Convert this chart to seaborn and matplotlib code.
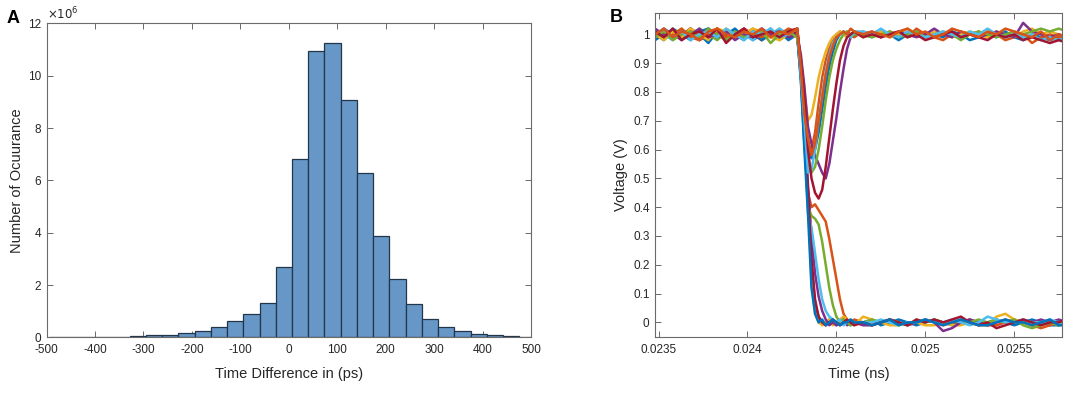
import numpy as np
import pandas as pd
import matplotlib
matplotlib.use("Agg")
import matplotlib.pyplot as plt
import seaborn as sns

# ---------------- Panel A data (histogram, counts in units of 1e6) ----------------
bin_edges = [-495.7, -462.2, -428.7, -395.2, -361.7, -328.2, -294.7, -261.2, -227.7,
             -194.2, -160.7, -127.2, -93.7, -60.2, -26.7, 6.8, 40.3, 73.8, 107.3,
             140.8, 174.3, 207.8, 241.3, 274.8, 308.3, 341.8, 375.3, 408.8, 442.3,
             475.8, 509.3]
counts_millions = [0.01, 0.01, 0.02, 0.02, 0.03, 0.05, 0.08, 0.10, 0.17, 0.26,
                   0.40, 0.63, 0.91, 1.31, 2.70, 6.82, 10.96, 11.26, 9.09, 6.29,
                   3.86, 2.22, 1.26, 0.72, 0.40, 0.23, 0.13, 0.09, 0.05, 0.03]
hist_xticks = [-500, -400, -300, -200, -100, 0, 100, 200, 300, 400, 500]
hist_yticks = [0, 2, 4, 6, 8, 10, 12]

# ---------------- Panel B data (voltage traces) ----------------
time_ns = [0.02348, 0.02353, 0.02358, 0.02363, 0.02368, 0.02373, 0.02378, 0.02383,
           0.02388, 0.02393, 0.02398, 0.02403, 0.02408, 0.02413, 0.02418, 0.02423,
           0.02428,
           0.02430, 0.02432, 0.02434, 0.02436, 0.02438, 0.02440, 0.02442, 0.02444,
           0.02446, 0.02448, 0.02450, 0.02452, 0.02454, 0.02456, 0.02458, 0.02460,
           0.02465, 0.02470, 0.02475, 0.02480, 0.02485, 0.02490, 0.02495, 0.02500,
           0.02505, 0.02510, 0.02515, 0.02520, 0.02525, 0.02530, 0.02535, 0.02540,
           0.02545, 0.02550, 0.02555, 0.02560, 0.02565, 0.02570, 0.02575, 0.02580]

# traces that fall to zero
fall_blue = [0.98, 1.00, 1.01, 0.99, 1.02, 1.00, 0.97, 1.01, 1.00, 0.99, 1.01, 0.98, 1.00, 1.02, 0.99, 1.00, 0.99,
             0.85, 0.62, 0.45, 0.20, 0.06, 0.02, 0.00, -0.01, 0.01, 0.00, -0.01, 0.00, 0.01, 0.00, -0.01, 0.00,
             0.00, 0.01, -0.01, 0.00, 0.01, 0.00, -0.01, 0.00, 0.01, 0.00, -0.01, 0.00, 0.01, -0.01, 0.00, 0.01, 0.00, -0.01, 0.00, 0.01, 0.00, -0.01, -0.01, 0.00]
fall_orange = [1.00, 1.01, 0.99, 1.00, 1.02, 0.99, 1.01, 1.00, 0.98, 1.01, 1.00, 0.99, 1.01, 1.00, 0.99, 1.01, 1.02,
               0.88, 0.68, 0.45, 0.40, 0.41, 0.39, 0.37, 0.35, 0.29, 0.22, 0.15, 0.08, 0.03, 0.01, 0.00, 0.01,
               0.00, -0.01, 0.00, 0.01, 0.00, -0.01, 0.00, 0.01, 0.00, -0.01, 0.00, 0.00, 0.01, 0.00, -0.01, -0.01, 0.00, 0.01, 0.00, -0.01, -0.02, -0.01, 0.00, 0.01]
fall_yellow = [1.01, 0.99, 1.00, 1.02, 0.98, 1.01, 1.00, 0.99, 1.02, 1.00, 0.99, 1.01, 0.98, 1.00, 1.02, 0.99, 1.00,
               0.87, 0.66, 0.44, 0.14, 0.03, 0.00, -0.01, 0.00, 0.01, -0.01, 0.00, 0.01, 0.02, 0.01, 0.00, -0.01,
               0.02, 0.01, 0.00, -0.01, -0.01, 0.00, 0.00, -0.01, -0.01, 0.00, -0.01, -0.01, 0.00, -0.01, -0.01, 0.02, 0.03, 0.01, 0.00, -0.01, -0.01, 0.00, -0.01, 0.00]
fall_purple = [0.99, 1.02, 1.00, 0.98, 1.01, 1.00, 1.02, 0.99, 1.00, 1.01, 0.99, 1.00, 1.02, 0.99, 1.00, 1.01, 0.99,
               0.89, 0.70, 0.48, 0.30, 0.17, 0.09, 0.04, 0.01, -0.01, 0.00, -0.01, 0.00, 0.01, -0.01, 0.00, 0.00,
               -0.01, -0.01, 0.00, 0.01, 0.00, -0.01, 0.00, 0.01, 0.00, -0.03, -0.02, 0.00, 0.01, 0.00, -0.01, 0.00, 0.01, 0.00, 0.01, 0.00, 0.01, 0.00, 0.01, 0.00]
fall_green = [1.00, 0.99, 1.01, 1.00, 0.99, 1.02, 1.00, 0.98, 1.01, 0.99, 1.00, 1.02, 0.99, 1.01, 0.98, 1.00, 1.01,
              0.86, 0.66, 0.40, 0.37, 0.36, 0.34, 0.28, 0.20, 0.12, 0.06, 0.02, 0.00, 0.01, 0.00, -0.01, 0.00,
              0.00, 0.01, 0.00, 0.01, 0.00, -0.01, 0.01, 0.00, 0.01, 0.00, 0.00, 0.01, 0.00, 0.01, 0.00, 0.01, 0.00, 0.01, -0.01, -0.02, -0.01, 0.00, -0.01, 0.01]
fall_lightblue = [1.01, 1.00, 0.98, 1.01, 1.00, 0.99, 1.02, 1.00, 0.99, 1.01, 1.00, 0.98, 1.01, 1.00, 1.02, 1.00, 0.99,
                  0.90, 0.70, 0.38, 0.33, 0.24, 0.15, 0.08, 0.04, 0.02, 0.01, 0.00, 0.01, -0.01, 0.00, 0.01, 0.00,
                  0.00, 0.00, 0.01, 0.00, -0.01, 0.00, 0.00, 0.01, 0.00, 0.00, 0.01, 0.00, -0.01, 0.00, 0.02, 0.01, 0.00, 0.00, 0.01, 0.00, 0.00, 0.01, 0.00, -0.01]
fall_darkred = [0.99, 1.01, 1.00, 0.99, 1.02, 0.98, 1.00, 1.01, 1.00, 0.99, 1.02, 1.00, 0.98, 1.01, 1.00, 0.99, 1.01,
                0.87, 0.64, 0.46, 0.22, 0.08, 0.02, 0.00, -0.01, 0.00, 0.01, 0.00, -0.01, 0.00, 0.01, 0.00, -0.01,
                0.00, -0.01, 0.00, 0.01, 0.00, -0.01, 0.01, 0.00, 0.01, 0.00, 0.01, 0.02, 0.00, -0.01, 0.00, -0.02, -0.01, 0.00, 0.01, 0.00, -0.01, 0.00, 0.00, 0.01]
fall_blue2 = [1.00, 0.98, 1.01, 1.00, 0.99, 1.01, 1.00, 1.02, 0.99, 1.00, 0.98, 1.01, 0.99, 1.00, 1.01, 0.98, 1.00,
              0.84, 0.60, 0.38, 0.12, 0.03, 0.00, 0.01, -0.01, 0.00, 0.01, 0.00, -0.01, 0.00, 0.00, 0.01, 0.00,
              0.00, -0.01, 0.00, 0.01, -0.01, 0.00, 0.00, 0.01, 0.00, -0.01, 0.00, 0.01, 0.00, -0.01, -0.01, 0.00, 0.01, 0.00, 0.00, -0.01, 0.00, 0.01, -0.01, -0.01]

# traces that dip and recover to one
rec_blue = [1.01, 0.99, 1.02, 1.00, 0.98, 1.01, 1.02, 0.99, 1.00, 1.02, 0.99, 1.01, 0.98, 1.00, 1.01, 0.99, 1.00,
            0.86, 0.70, 0.60, 0.57, 0.60, 0.66, 0.74, 0.82, 0.89, 0.94, 0.98, 1.00, 1.01, 1.00, 0.99, 1.00,
            1.00, 0.99, 1.01, 1.00, 0.98, 1.00, 1.01, 0.99, 1.00, 0.99, 1.01, 1.00, 0.98, 0.99, 1.00, 0.99, 1.01, 0.99, 0.98, 1.00, 0.99, 0.98, 0.99, 0.98]
rec_orange = [0.99, 1.01, 1.00, 1.02, 0.99, 0.98, 1.00, 1.01, 0.99, 1.00, 1.02, 1.00, 0.99, 1.01, 1.00, 1.02, 1.01,
              0.90, 0.74, 0.62, 0.60, 0.66, 0.76, 0.85, 0.91, 0.95, 0.98, 1.00, 1.01, 1.00, 1.01, 1.00, 0.99,
              1.01, 1.00, 0.99, 1.01, 1.00, 0.99, 1.02, 1.00, 0.99, 0.98, 1.00, 0.99, 1.00, 1.01, 0.99, 1.00, 0.98, 0.99, 1.00, 0.97, 0.99, 1.00, 0.99, 0.98]
rec_yellow = [1.00, 0.98, 1.01, 0.99, 1.02, 1.00, 0.98, 1.02, 1.01, 0.99, 1.00, 1.02, 1.01, 0.99, 0.98, 1.00, 0.99,
              0.92, 0.80, 0.70, 0.72, 0.78, 0.85, 0.90, 0.94, 0.97, 0.99, 1.00, 1.01, 1.00, 0.99, 1.00, 1.01,
              0.99, 1.00, 1.01, 0.99, 1.00, 1.02, 1.00, 0.99, 1.01, 1.00, 0.99, 1.00, 1.01, 1.00, 0.99, 1.01, 1.00, 0.99, 1.01, 1.02, 1.00, 1.01, 1.00, 0.99]
rec_purple = [1.02, 1.00, 0.99, 1.01, 1.00, 1.02, 0.99, 1.00, 1.01, 0.98, 1.00, 0.99, 1.02, 1.00, 1.01, 0.99, 1.00,
              0.93, 0.82, 0.68, 0.62, 0.58, 0.55, 0.52, 0.50, 0.55, 0.63, 0.71, 0.80, 0.88, 0.95, 0.99, 1.00,
              1.00, 1.01, 0.99, 1.00, 1.01, 1.00, 0.99, 1.00, 1.02, 1.00, 0.99, 1.01, 1.00, 0.99, 1.00, 1.01, 1.00, 0.99, 1.04, 1.01, 1.00, 0.99, 1.00, 0.99]
rec_green = [0.99, 1.01, 0.98, 1.00, 1.01, 0.99, 1.02, 1.00, 0.98, 1.01, 0.99, 1.00, 1.01, 0.97, 1.00, 1.01, 0.99,
             0.90, 0.76, 0.56, 0.52, 0.54, 0.60, 0.68, 0.77, 0.85, 0.91, 0.95, 0.98, 1.00, 1.01, 0.99, 1.00,
             1.00, 0.99, 1.00, 1.01, 0.99, 1.00, 1.01, 0.99, 1.00, 1.01, 1.00, 0.98, 1.00, 1.01, 1.00, 0.99, 1.00, 1.01, 1.00, 1.01, 1.02, 1.01, 1.02, 1.01]
rec_lightblue = [1.00, 1.02, 0.99, 1.01, 0.98, 1.00, 1.01, 0.99, 1.02, 1.00, 0.98, 1.01, 1.00, 1.02, 0.99, 1.00, 1.02,
                 0.86, 0.70, 0.52, 0.53, 0.60, 0.70, 0.79, 0.87, 0.93, 0.97, 0.99, 1.00, 1.01, 1.00, 0.99, 1.01,
                 1.01, 1.00, 1.02, 1.00, 0.99, 1.01, 1.00, 0.99, 1.00, 1.01, 1.00, 0.99, 1.01, 1.00, 1.02, 1.00, 0.99, 1.00, 0.99, 1.00, 0.98, 0.99, 0.98, 0.99]
rec_darkred = [1.01, 0.99, 1.02, 0.98, 1.00, 1.01, 0.99, 1.02, 0.97, 1.00, 1.02, 0.99, 1.00, 1.01, 0.99, 1.01, 1.02,
               0.90, 0.78, 0.60, 0.50, 0.45, 0.43, 0.46, 0.54, 0.64, 0.74, 0.83, 0.91, 0.96, 0.99, 1.00, 1.01,
               0.99, 1.00, 0.99, 1.00, 1.01, 0.99, 1.00, 0.98, 0.99, 1.00, 1.01, 0.99, 1.00, 0.99, 0.98, 1.00, 0.99, 1.00, 0.98, 0.99, 0.98, 0.97, 0.98, 0.97]
rec_orange2 = [1.00, 1.02, 0.99, 1.01, 1.00, 0.98, 1.01, 1.02, 1.00, 0.99, 1.01, 1.00, 1.02, 0.99, 1.01, 1.00, 1.02,
               0.88, 0.72, 0.64, 0.58, 0.62, 0.70, 0.78, 0.86, 0.92, 0.96, 0.99, 1.00, 1.01, 1.00, 1.02, 1.01,
               1.00, 1.01, 1.00, 0.99, 1.01, 1.02, 1.00, 1.01, 0.99, 1.00, 1.02, 1.01, 1.00, 0.99, 1.01, 1.00, 1.02, 1.01, 1.00, 0.99, 1.01, 0.98, 1.00, 0.99]

trace_order = ["fall_blue", "fall_orange", "fall_yellow", "fall_purple", "fall_green",
               "fall_lightblue", "fall_darkred", "fall_blue2",
               "rec_blue", "rec_orange", "rec_yellow", "rec_purple", "rec_green",
               "rec_lightblue", "rec_darkred", "rec_orange2"]
trace_values = [fall_blue, fall_orange, fall_yellow, fall_purple, fall_green,
                fall_lightblue, fall_darkred, fall_blue2,
                rec_blue, rec_orange, rec_yellow, rec_purple, rec_green,
                rec_lightblue, rec_darkred, rec_orange2]
volt_xticks = [0.0235, 0.024, 0.0245, 0.025, 0.0255]
volt_xticklabels = ["0.0235", "0.024", "0.0245", "0.025", "0.0255"]
volt_yticks = [0, 0.1, 0.2, 0.3, 0.4, 0.5, 0.6, 0.7, 0.8, 0.9, 1]
volt_yticklabels = ["0", "0.1", "0.2", "0.3", "0.4", "0.5", "0.6", "0.7", "0.8", "0.9", "1"]

# ---------------- styling ----------------
mat_colors = {"blue": "#0072BD", "orange": "#D95319", "yellow": "#EDB120",
              "purple": "#7E2F8E", "green": "#77AC30", "lightblue": "#4DBEEE",
              "darkred": "#A2142F"}
palette = {}
for name in trace_order:
    key = name.split("_")[1].rstrip("2")
    palette[name] = mat_colors[key]

sns.set_theme(style="ticks")
plt.rcParams["font.family"] = ["Liberation Sans", "DejaVu Sans"]
plt.rcParams["axes.edgecolor"] = "#6a6a6a"
plt.rcParams["axes.linewidth"] = 0.8

fig = plt.figure(figsize=(10.79, 3.96), dpi=100)
axA = fig.add_axes([0.0431, 0.148, 0.4490, 0.793])
axB = fig.add_axes([0.6072, 0.1495, 0.3768, 0.8175])

# Panel A
bin_centers = [(bin_edges[i] + bin_edges[i + 1]) / 2 for i in range(len(counts_millions))]
hist_df = pd.DataFrame({"time_diff": bin_centers, "count": counts_millions})
sns.histplot(data=hist_df, x="time_diff", weights="count", bins=bin_edges, ax=axA,
             color="#6797C7", edgecolor="#22364A", linewidth=0.9, alpha=1.0)
axA.set_xlim(-500, 500)
axA.set_ylim(0, 12)
axA.set_xticks(hist_xticks)
axA.set_xticklabels([str(v) for v in hist_xticks])
axA.set_yticks(hist_yticks)
axA.set_xlabel("Time Difference in (ps)", fontsize=10.5, color="#262626", labelpad=8)
axA.set_ylabel("Number of Ocuurance", fontsize=10.5, color="#262626", labelpad=3)
axA.text(0.0, 1.004, r"$\times10^{6}$", transform=axA.transAxes, fontsize=8.5,
         color="#262626", ha="left", va="bottom")

# Panel B
rows = []
for name, vals in zip(trace_order, trace_values):
    assert len(vals) == len(time_ns), (name, len(vals))
    for t, v in zip(time_ns, vals):
        rows.append((name, t, v))
volt_df = pd.DataFrame(rows, columns=["trace", "time", "voltage"])
sns.lineplot(data=volt_df, x="time", y="voltage", hue="trace", hue_order=trace_order,
             palette=palette, estimator=None, sort=False, legend=False,
             linewidth=1.8, ax=axB)
axB.set_xlim(0.023481, 0.025767)
axB.set_ylim(-0.05, 1.074)
axB.set_xticks(volt_xticks)
axB.set_xticklabels(volt_xticklabels)
axB.set_yticks(volt_yticks)
axB.set_yticklabels(volt_yticklabels)
axB.set_xlabel("Time (ns)", fontsize=10.5, color="#262626", labelpad=8)
axB.set_ylabel("Voltage (V)", fontsize=10.5, color="#262626", labelpad=4)

for ax in (axA, axB):
    ax.tick_params(direction="in", top=True, right=True, length=4, width=0.7,
                   color="#6a6a6a", labelsize=8.5, labelcolor="#262626")
    ax.tick_params(axis="x", pad=5)
    ax.tick_params(axis="y", pad=4)
    for sp in ax.spines.values():
        sp.set_visible(True)
        sp.set_color("#6a6a6a")

fig.text(13 / 1079, 1 - 23 / 396, "A", fontsize=13, fontweight="bold", ha="center",
         va="baseline", color="black")
fig.text(616 / 1079, 1 - 22.5 / 396, "B", fontsize=13, fontweight="bold", ha="center",
         va="baseline", color="black")

fig.savefig("out.png", dpi=100)
